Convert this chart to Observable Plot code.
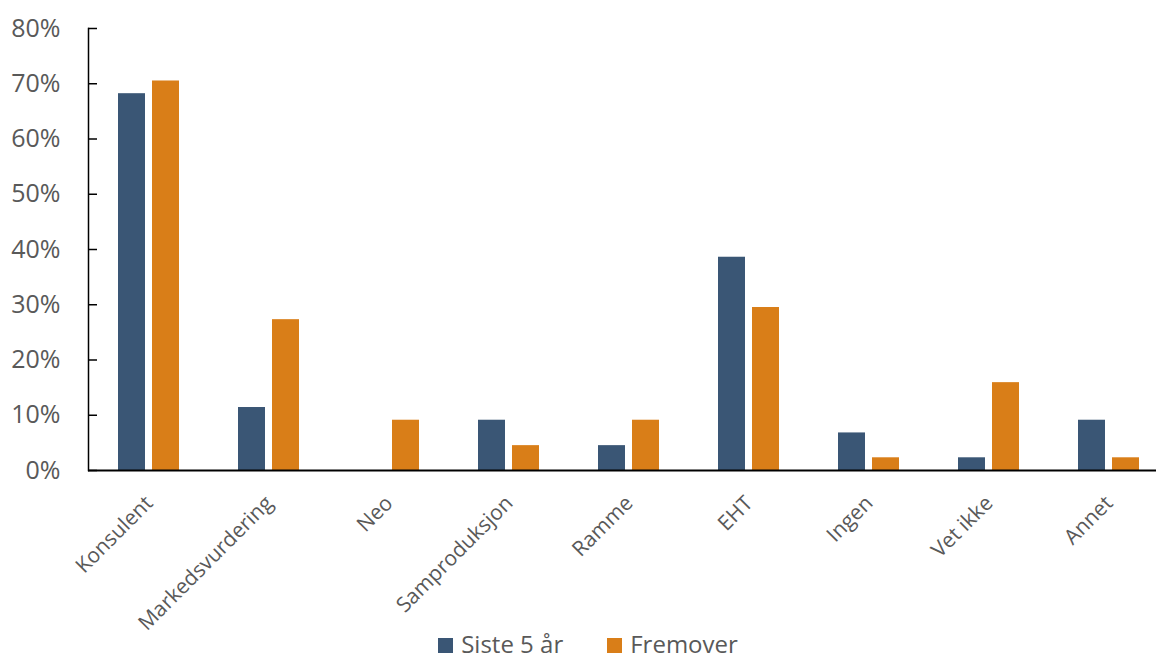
<!DOCTYPE html>
<html>
<head>
<meta charset="utf-8">
<script src="https://cdn.jsdelivr.net/npm/d3@7"></script>
<script src="https://cdn.jsdelivr.net/npm/@observablehq/plot@0.6"></script>
<style>
  html, body { margin: 0; padding: 0; background: #fff; overflow: hidden; }
  body { position: relative; width: 1156px; height: 660px; }
  #chart svg { display: block; }
  .legend { position: absolute; left: 0; top: 627px; width: 1156px; box-sizing: border-box;
    display: flex; justify-content: center; align-items: center; height: 33px;
    padding-left: 20px; font-family: "Open Sans", sans-serif; font-size: 24px; color: #595959; }
  .legend .item { display: flex; align-items: center; margin: 0 22px; }
  .legend .swatch { width: 15px; height: 15px; margin-right: 8px; margin-top: 4px; }
</style>
</head>
<body>
<div id="chart"></div>
<script>
// Categories along the x axis
const categories = ["Konsulent", "Markedsvurdering", "Neo", "Samproduksjon", "Ramme", "EHT", "Ingen", "Vet ikke", "Annet"];
// Share of respondents (%) per series
const siste5 = [68.2, 11.4, 0, 9.1, 4.5, 38.6, 6.8, 2.3, 9.1];
const fremover = [70.5, 27.3, 9.1, 4.5, 9.1, 29.5, 2.3, 15.9, 2.3];
// Series names and colours
const seriesNames = ["Siste 5 år", "Fremover"];
const seriesColors = ["#3A5675", "#D97E18"];
// Y tick values (%)
const yTicks = [0, 10, 20, 30, 40, 50, 60, 70, 80];

const rowsA = categories.map((c, i) => ({category: c, value: siste5[i]}));
const rowsB = categories.map((c, i) => ({category: c, value: fremover[i]}));

const chart = Plot.plot({
  width: 1156,
  height: 660,
  marginLeft: 88,
  marginRight: 0,
  marginTop: 28,
  marginBottom: 190,
  style: {fontFamily: "Open Sans, sans-serif", background: "#fff"},
  x: {domain: categories, range: [88, 1168], paddingInner: 0.4917, paddingOuter: 0.2458, axis: null},
  y: {domain: [0, 80]},
  marks: [
    Plot.barY(rowsA, {x: "category", y: "value", fill: seriesColors[0], insetRight: 34}),
    Plot.barY(rowsB, {x: "category", y: "value", fill: seriesColors[1], insetLeft: 34}),
    Plot.axisY({ticks: yTicks, tickFormat: d => d + "%", tickSize: -9, tickPadding: 37,
      fontSize: 25, stroke: "#000", strokeWidth: 1.5, fill: "#595959", label: null}),
    Plot.frame({anchor: "left", stroke: "#000", strokeWidth: 1.5}),
    Plot.ruleY([0], {stroke: "#000", strokeWidth: 2}),
    Plot.text(categories, {x: d => d, frameAnchor: "bottom", dx: 5, dy: 34, rotate: -45,
      textAnchor: "end", lineAnchor: "bottom", fontSize: 21, fill: "#595959"})
  ]
});
document.getElementById("chart").appendChild(chart);

// Legend below the plot area
const legend = d3.select("body").append("div").attr("class", "legend");
seriesNames.forEach((name, i) => {
  const item = legend.append("div").attr("class", "item");
  item.append("div").attr("class", "swatch").style("background", seriesColors[i]);
  item.append("span").text(name);
});
</script>
</body>
</html>
